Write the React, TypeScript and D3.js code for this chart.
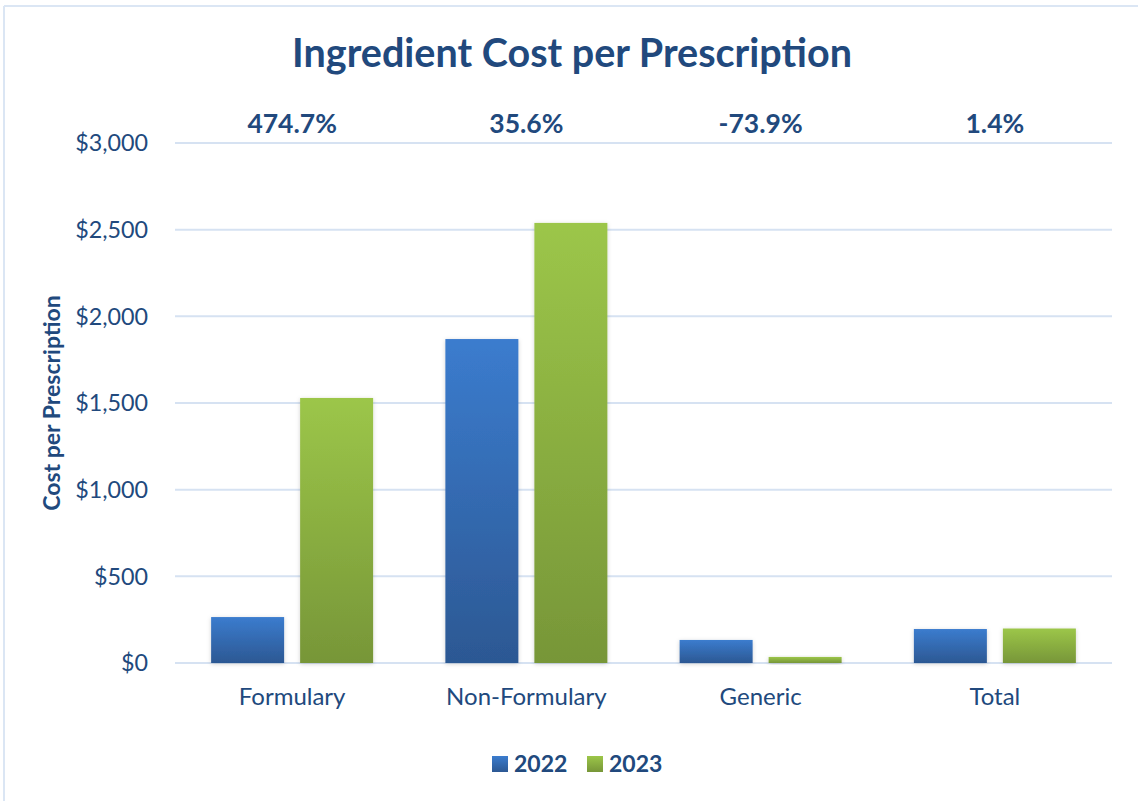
import React from "react";
import * as d3 from "d3";

const categories = ["Formulary", "Non-Formulary", "Generic", "Total"];
const series = ["2022", "2023"];
const values2022 = [265, 1869, 133, 196];
const values2023 = [1529, 2539, 35, 199];
const changeLabels = ["474.7%", "35.6%", "-73.9%", "1.4%"];
const yTicks = [0, 500, 1000, 1500, 2000, 2500, 3000];

const W = 1138;
const H = 801;
const FONT = "Lato, 'Open Sans', sans-serif";
const TEXT = "#21497d";

export default function App() {
  const x = d3.scaleBand<string>().domain(categories).range([175, 1112]).paddingInner(0).paddingOuter(0);
  const y = d3.scaleLinear().domain([0, 3000]).range([663, 143]);
  const bw = x.bandwidth();
  const barW = 73;
  const gap = 16;
  const inner = d3
    .scaleBand<string>()
    .domain(series)
    .range([0, barW * 2 + gap])
    .paddingInner(gap / (barW + gap))
    .paddingOuter(0);
  const groupOffset = (bw - (barW * 2 + gap)) / 2;
  const fmt = (v: number) => "$" + d3.format(",")(v);
  const data = [values2022, values2023];
  const fills = ["url(#gBlue)", "url(#gGreen)"];

  return (
    <svg width={W} height={H} style={{ position: "absolute", left: 0, top: 0, background: "#fff" }}>
      <defs>
        <linearGradient id="gBlue" x1="0" y1="0" x2="0" y2="1">
          <stop offset="0" stopColor="#3b7cce" />
          <stop offset="1" stopColor="#2c5893" />
        </linearGradient>
        <linearGradient id="gGreen" x1="0" y1="0" x2="0" y2="1">
          <stop offset="0" stopColor="#9cc649" />
          <stop offset="1" stopColor="#779638" />
        </linearGradient>
        <filter id="shadow" x="-20%" y="-20%" width="140%" height="140%">
          <feDropShadow dx="0" dy="1" stdDeviation="2" floodColor="#000" floodOpacity="0.18" />
        </filter>
      </defs>
      <rect x={0} y={0} width={W} height={H} fill="#fff" />
      <line x1={4} x2={4} y1={6} y2={H} stroke="#dbe6f4" strokeWidth={2} />
      <line x1={4} x2={W} y1={6} y2={6} stroke="#dbe6f4" strokeWidth={2} />

      <text x={572} y={67} textAnchor="middle" fontFamily={FONT} fontWeight={700} fontSize={39.5} fill={TEXT}>
        Ingredient Cost per Prescription
      </text>

      {yTicks.map((t) => (
        <g key={t}>
          <line x1={175} x2={1112} y1={y(t)} y2={y(t)} stroke="#d6e2f2" strokeWidth={2} />
          <text x={148} y={y(t)} dy="0.36em" textAnchor="end" fontFamily={FONT} fontSize={23.3} fill={TEXT}>
            {fmt(t)}
          </text>
        </g>
      ))}

      <text
        transform={`translate(60,${(y(0) + y(3000)) / 2}) rotate(-90)`}
        textAnchor="middle"
        fontFamily={FONT}
        fontWeight={700}
        fontSize={23}
        fill={TEXT}
      >
        Cost per Prescription
      </text>

      {categories.map((c, i) => (
        <g key={c}>
          {series.map((s, j) => {
            const v = data[j][i];
            const bx = (x(c) as number) + groupOffset + (inner(s) as number);
            return (
              <rect
                key={s}
                x={bx}
                y={y(v)}
                width={inner.bandwidth()}
                height={y(0) - y(v)}
                fill={fills[j]}
                filter="url(#shadow)"
              />
            );
          })}
          <text x={(x(c) as number) + bw / 2} y={705} textAnchor="middle" fontFamily={FONT} fontSize={24} fill={TEXT}>
            {c}
          </text>
          <text x={(x(c) as number) + bw / 2} y={133} textAnchor="middle" fontFamily={FONT} fontWeight={700} fontSize={26.5} fill={TEXT}>
            {changeLabels[i]}
          </text>
        </g>
      ))}

      {series.map((s, j) => {
        const lx = 492 + j * 95;
        return (
          <g key={s}>
            <rect x={lx} y={756} width={16} height={16} fill={fills[j]} />
            <text x={lx + 22} y={772} fontFamily={FONT} fontWeight={700} fontSize={23} fill={TEXT}>
              {s}
            </text>
          </g>
        );
      })}
    </svg>
  );
}
